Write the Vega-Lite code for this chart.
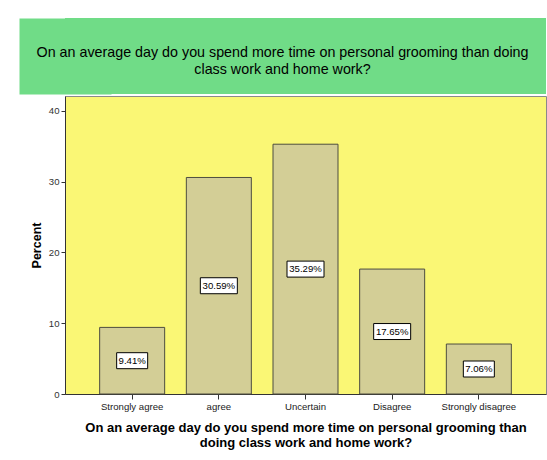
{
  "$schema": "https://vega.github.io/schema/vega-lite/v6.json",
  "padding": {"left": 18, "top": 18, "right": 0, "bottom": 0},
  "background": "white",
  "spacing": 1,
  "config": {"font": "Liberation Sans"},
  "vconcat": [
    {
      "width": 481,
      "height": 76,
      "view": {"fill": "#70DC87", "stroke": null},
      "data": {"values": [{"t": ["On an average day do you spend more time on personal grooming than doing", "class work and home work?"]}]},
      "mark": {"type": "text", "fontSize": 14.3, "lineHeight": 16.5, "align": "center", "baseline": "middle", "color": "black"},
      "encoding": {
        "x": {"datum": 0.4522, "type": "quantitative", "scale": {"domain": [0, 1]}, "axis": null},
        "y": {"datum": 0.536, "type": "quantitative", "scale": {"domain": [0, 1]},
              "axis": {"labels": false, "ticks": false, "title": null, "grid": false, "domain": true,
                       "domainColor": "#70DC87", "domainWidth": 92, "domainCap": "butt"}},
        "text": {"field": "t"}
      }
    },
    {
      "width": 481,
      "height": 298,
      "view": {"fill": "#FAF775", "stroke": "#8a8a8a"},
      "data": {"values": [
        {"response": "Strongly agree", "pct": 9.41},
        {"response": "agree", "pct": 30.59},
        {"response": "Uncertain", "pct": 35.29},
        {"response": "Disagree", "pct": 17.65},
        {"response": "Strongly disagree", "pct": 7.06}
      ]},
      "transform": [
        {"calculate": "datum.pct / 2", "as": "mid"},
        {"calculate": "format(datum.pct, '.2f') + '%'", "as": "lbl"}
      ],
      "encoding": {
        "x": {
          "field": "response", "type": "nominal", "sort": null,
          "scale": {"paddingInner": 0.25, "paddingOuter": 0.4},
          "axis": {
            "title": ["On an average day do you spend more time on personal grooming than", "doing class work and home work?"],
            "titleFontSize": 13, "titleFontWeight": "bold", "titleColor": "black", "titlePadding": 11, "titleLineHeight": 14.5,
            "labelFontSize": 9.6, "labelColor": "#222", "labelAngle": 0, "labelPadding": 2,
            "tickSize": 5, "tickColor": "#333", "domainColor": "#333"
          }
        }
      },
      "layer": [
        {
          "mark": {"type": "bar", "fill": "#D3CE96", "stroke": "#4d4d40", "strokeWidth": 1},
          "encoding": {
            "y": {
              "field": "pct", "type": "quantitative",
              "scale": {"domain": [0, 42.1], "nice": false},
              "axis": {
                "values": [0, 10, 20, 30, 40], "grid": false,
                "title": "Percent", "titleFontSize": 12.5, "titleFontWeight": "bold", "titleColor": "black",
                "titleX": -22, "titleY": 149, "minExtent": 46,
                "labelFontSize": 9.6, "labelColor": "#333", "labelPadding": 2,
                "tickSize": 4, "tickColor": "#333", "domainColor": "#333"
              }
            }
          }
        },
        {
          "mark": {"type": "point", "filled": true, "fill": "white", "stroke": "black", "strokeWidth": 1, "opacity": 1, "fillOpacity": 1},
          "encoding": {
            "y": {"field": "mid", "type": "quantitative"},
            "shape": {"condition": {"test": "datum.pct < 10", "value": "M-1,-0.516H1V0.516H-1Z"}, "value": "M-1,-0.432H1V0.432H-1Z"},
            "size": {"condition": {"test": "datum.pct < 10", "value": 961}, "value": 1369}
          }
        },
        {
          "mark": {"type": "text", "fontSize": 9.6, "color": "black", "align": "center", "baseline": "middle"},
          "encoding": {
            "y": {"field": "mid", "type": "quantitative"},
            "text": {"field": "lbl"}
          }
        }
      ]
    }
  ]
}
